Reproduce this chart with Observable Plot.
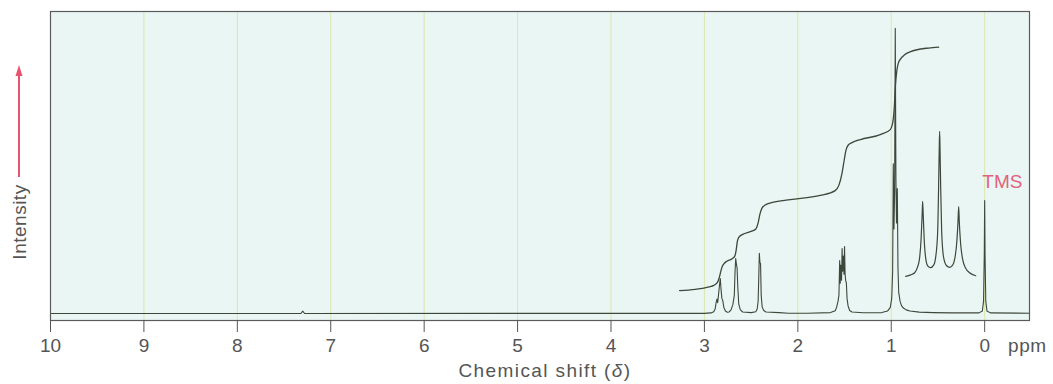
<!DOCTYPE html>
<html><head><meta charset="utf-8">
<script src="https://cdn.jsdelivr.net/npm/d3@7"></script>
<script src="https://cdn.jsdelivr.net/npm/@observablehq/plot@0.6"></script>
<style>html,body{margin:0;padding:0;background:#fff;} svg{display:block;}</style>
</head><body><div id="chart"></div>
<script>
// Tick positions (ppm)
const tickPpm = [10, 9, 8, 7, 6, 5, 4, 3, 2, 1, 0];

// Main 1H NMR spectrum (chemical shift in ppm, intensity in arbitrary units)
const specPpm = [10.0, 7.32, 7.30, 7.28, 3.00, 2.93, 2.90, 2.885, 2.875, 2.866, 2.858, 2.848, 2.838, 2.830, 2.822, 2.813, 2.803, 2.792, 2.775, 2.755,
  2.735, 2.715, 2.695, 2.68, 2.672, 2.665, 2.658, 2.65, 2.643, 2.632, 2.615, 2.59, 2.50,
  2.45, 2.435, 2.425, 2.418, 2.412, 2.406, 2.399, 2.392, 2.382, 2.365, 2.34, 2.20, 2.10, 1.90,
  1.65, 1.60, 1.585, 1.570, 1.560, 1.552, 1.546, 1.539, 1.532, 1.526, 1.520, 1.513, 1.506, 1.500, 1.494, 1.488, 1.480, 1.473, 1.462, 1.445, 1.42, 1.30,
  1.10, 1.04, 1.01, 0.995, 0.985, 0.978, 0.971, 0.964, 0.957, 0.950, 0.944, 0.935, 0.928, 0.92, 0.905, 0.89, 0.87, 0.84, 0.80, 0.70, 0.55, 0.35,
  0.06, 0.025, 0.012, 0.004, 0.0, -0.004, -0.012, -0.025, -0.06, -0.48];
const specInt = [0, 0, 0.8, 0, 0.05, 0.2, 0.6, 1.5, 3.5, 4.8, 3.6, 6.5, 9.5, 11.6, 8, 5, 4.2, 2, 0.8, 0.4,
  0.5, 1.2, 3, 6, 14, 18.2, 16.5, 15, 9, 3, 1.2, 0.5, 0.3,
  0.6, 1.5, 4, 12, 19.9, 17, 16.5, 6, 2.2, 1, 0.5, 0.3, 0.1, 0.1,
  0.3, 0.9, 2, 4, 6, 17.5, 10, 16, 11, 21.5, 14, 19, 13, 22.2, 13, 11, 10, 5, 2.5, 1, 0.5, 0.25,
  0.3, 0.8, 2, 5, 14, 49.6, 28, 40, 94.4, 45, 30, 41.4, 15, 7, 4, 2.6, 1.8, 1.2, 0.8, 0.45, 0.3, 0.2,
  0.2, 0.8, 4, 20, 37.4, 20, 4, 0.8, 0.2, 0.1];

// Integration curve
const integralPpm = [3.266, 3.10, 2.95, 2.90, 2.86, 2.84, 2.826, 2.81, 2.79, 2.76, 2.70, 2.675, 2.66, 2.648, 2.63, 2.59, 2.50, 2.45, 2.425, 2.405, 2.385, 2.35, 2.27, 2.08, 1.76, 1.60, 1.56, 1.53, 1.505, 1.485, 1.46, 1.42, 1.33, 1.11, 1.01, 0.985, 0.968, 0.955, 0.94, 0.925, 0.90, 0.86, 0.80, 0.70, 0.60, 0.493];
const integralInt = [7.6, 8.0, 8.8, 9.3, 10.3, 12, 13.8, 15.5, 16.5, 17.3, 18.2, 19, 21, 23.8, 25.3, 26.2, 27.2, 28, 30, 33, 34.8, 35.9, 36.8, 37.7, 39.1, 40.7, 42.5, 46, 50.5, 54, 55.8, 56.6, 57.6, 59.3, 60.9, 63, 68, 75.5, 80.5, 82.8, 84.3, 85.6, 86.6, 87.5, 87.9, 88.2];

// Expanded triplet inset
const insetPpm = [0.846, 0.792, 0.749, 0.717, 0.696, 0.680, 0.669, 0.664, 0.658, 0.648, 0.632, 0.610, 0.578, 0.546, 0.525, 0.503, 0.493, 0.486, 0.482, 0.478, 0.471, 0.460, 0.439, 0.407, 0.375, 0.343, 0.321, 0.300, 0.286, 0.278, 0.271, 0.257, 0.236, 0.203, 0.161, 0.096];
const insetInt = [12.3, 12.8, 13.5, 15.5, 18.5, 25, 33, 37.1, 33, 25, 18.5, 15.8, 15.2, 16, 18.5, 27, 42, 55, 60.3, 55, 42, 27, 18.5, 15.8, 15.3, 16, 18, 23, 30, 35.4, 30, 23, 18, 15, 13.5, 12.5];

const labelTMS = ["TMS"];

const spectrum = specPpm.map((p, i) => ({ppm: p, I: specInt[i]}));
const integral = integralPpm.map((p, i) => ({ppm: p, I: integralInt[i]}));
const inset = insetPpm.map((p, i) => ({ppm: p, I: insetInt[i]}));

const ink = "#3e473b";
const chart = Plot.plot({
  width: 1053, height: 384,
  marginLeft: 50, marginRight: 24, marginTop: 11, marginBottom: 64,
  style: {fontFamily: "'Liberation Sans', Arial, sans-serif", fontSize: "19px", color: "#555", background: "#fff"},
  x: {domain: [10, -0.48], axis: null},
  y: {domain: [-2.32, 100], axis: null},
  marks: [
    Plot.frame({fill: "#eaf6f3", stroke: "none"}),
    Plot.ruleX(tickPpm.filter(d => d < 10), {stroke: "#dde5b0", strokeWidth: 1}),
    Plot.line(spectrum, {x: "ppm", y: "I", stroke: ink, strokeWidth: 1.1}),
    Plot.line(integral, {x: "ppm", y: "I", stroke: ink, strokeWidth: 1.3, curve: "monotone-x"}),
    Plot.line(inset, {x: "ppm", y: "I", stroke: ink, strokeWidth: 1.2, curve: "monotone-x"}),
    Plot.text(labelTMS, {x: -0.19, y: 43.5, text: d => d, fill: "#e0647e", fontSize: 19}),
    Plot.frame({stroke: "#5b5b5b", strokeWidth: 1.2}),
    Plot.axisX(tickPpm, {anchor: "bottom", tickSize: 12, tickPadding: 6, fontSize: 19, color: "#555", label: null})
  ]
});
document.getElementById("chart").appendChild(chart);

const svg = d3.select(chart);
const font = "'Liberation Sans', Arial, sans-serif";
svg.append("text").attr("x", 1008).attr("y", 351.5).attr("fill", "#555").attr("text-anchor", "start")
  .attr("font-family", font).attr("font-size", 19).attr("letter-spacing", "0.6px").text("ppm");
const xl = svg.append("text").attr("x", 545).attr("y", 376.5).attr("fill", "#555")
  .attr("font-family", font).attr("font-size", 19).attr("letter-spacing", "1.4px").attr("text-anchor", "middle");
xl.append("tspan").text("Chemical shift (");
xl.append("tspan").attr("font-style", "italic").text("δ");
xl.append("tspan").text(")");
svg.append("text").attr("transform", "translate(25.5,222) rotate(-90)").attr("fill", "#555")
  .attr("font-family", font).attr("font-size", 19).attr("letter-spacing", "0.5px").attr("text-anchor", "middle").text("Intensity");
svg.append("line").attr("x1", 19).attr("x2", 19).attr("y1", 177).attr("y2", 74)
  .attr("stroke", "#e8546b").attr("stroke-width", 2);
svg.append("path").attr("d", "M15.5,76 L19,65 L22.5,76 Z").attr("fill", "#e8546b");
</script>
</body></html>
